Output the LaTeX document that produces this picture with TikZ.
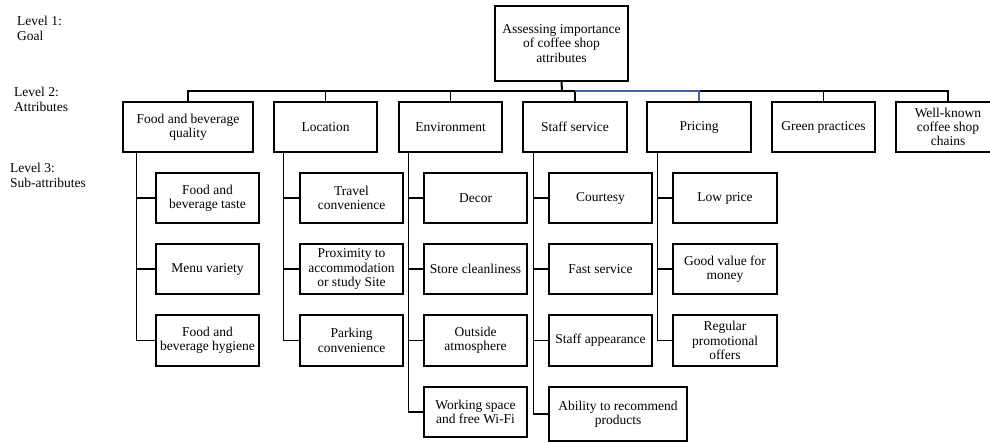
\documentclass[tikz,border=0pt]{standalone}
\usepackage{fontspec}
\setmainfont{Liberation Serif}
\begin{document}
\begin{tikzpicture}[x=1pt,y=-1pt,
  box/.style={draw,line width=1.1pt,rectangle,inner sep=0pt,align=center,
    font=\fontsize{13.5}{14.3}\selectfont},
  lvl/.style={anchor=west,inner sep=0pt,align=left,font=\fontsize{13.5}{15}\selectfont},
  wire/.style={line width=1.1pt},
  attr/.style={box,minimum height=50pt,minimum width=103pt},
  sub/.style={box,minimum height=50pt,minimum width=103pt}]
\useasboundingbox (0,0) rectangle (990,443);
% level labels
\node[lvl] (l1) at (17,28.5) {Level 1:\\Goal};
\node[lvl] (l2) at (14,99.5) {Level 2:\\Attributes};
\node[lvl] (l3) at (10,175.5) {Level 3:\\Sub-attributes};
% goal
\node[box,minimum width=133pt,minimum height=75pt] (goal) at (561.5,43.5) {Assessing importance\\of coffee shop\\attributes};
\coordinate (bus) at (562,91);
% attributes
\node[attr,minimum width=130pt] (food) at (188,127) {Food and beverage\\quality};
\node[attr] (loc) at (325.5,127) {Location};
\node[attr] (env) at (450.5,127) {Environment};
\node[attr,minimum width=104pt] (staff) at (575,127) {Staff service};
\node[attr,minimum width=104pt] (price) at (699,127) {Pricing};
\node[attr] (green) at (823.5,127) {Green practices};
\node[attr,minimum width=104pt] (well) at (948,127) {Well-known\\coffee shop\\chains};
% sub-attributes
\node[sub] (f1) at (207.5,198) {Food and\\beverage taste};
\node[sub] (f2) at (207.5,269) {Menu variety};
\node[sub,minimum height=51pt] (f3) at (207.5,340.5) {Food and\\beverage hygiene};
\node[sub] (c1) at (351.5,198) {Travel\\convenience};
\node[sub] (c2) at (351.5,269) {Proximity to\\accommodation\\or study Site};
\node[sub,minimum height=51pt] (c3) at (351.5,340.5) {Parking\\convenience};
\node[sub] (e1) at (475.5,198) {Decor};
\node[sub] (e2) at (475.5,269) {Store cleanliness};
\node[sub,minimum height=51pt] (e3) at (475.5,340.5) {Outside\\atmosphere};
\node[sub] (e4) at (475.5,412) {Working space\\and free Wi-Fi};
\node[sub] (s1) at (600.5,198) {Courtesy};
\node[sub] (s2) at (600.5,269) {Fast service};
\node[sub,minimum height=51pt] (s3) at (600.5,340.5) {Staff appearance};
\node[sub,minimum width=138pt,minimum height=54pt] (s4) at (618,414) {Ability to recommend\\products};
\node[sub,minimum width=104pt] (p1) at (725,198) {Low price};
\node[sub,minimum width=104pt] (p2) at (725,269) {Good value for\\money};
\node[sub,minimum width=104pt,minimum height=51pt] (p3) at (725,340.5) {Regular\\promotional\\offers};
% goal to attributes
\draw[line width=2pt] (goal.south) -- (bus);
\draw[wire] (food.north) |- (bus);
\draw[wire] (loc.north) |- (bus);
\draw[wire] (env.north) |- (bus);
\draw[wire] (staff.north) |- (bus);
\draw[wire] (green.north) |- (bus);
\draw[wire] (well.north) |- (bus);
\draw[wire,draw={rgb,255:red,70;green,100;blue,170}] (price.north) |- (staff.north |- bus);
% attributes to sub-attributes
\draw[wire] (food.south west) ++(14,0) |- (f1.west);
\draw[wire] (food.south west) ++(14,0) |- (f2.west);
\draw[wire] (food.south west) ++(14,0) |- (f3.west);
\draw[wire] (loc.south west) ++(10,0) |- (c1.west);
\draw[wire] (loc.south west) ++(10,0) |- (c2.west);
\draw[wire] (loc.south west) ++(10,0) |- (c3.west);
\draw[wire] (env.south west) ++(10,0) |- (e1.west);
\draw[wire] (env.south west) ++(10,0) |- (e2.west);
\draw[wire] (env.south west) ++(10,0) |- (e3.west);
\draw[wire] (env.south west) ++(10,0) |- (e4.west);
\draw[wire] (staff.south west) ++(11,0) |- (s1.west);
\draw[wire] (staff.south west) ++(11,0) |- (s2.west);
\draw[wire] (staff.south west) ++(11,0) |- (s3.west);
\draw[wire] (staff.south west) ++(11,0) |- (s4.west);
\draw[wire] (price.south west) ++(11,0) |- (p1.west);
\draw[wire] (price.south west) ++(11,0) |- (p2.west);
\draw[wire] (price.south west) ++(11,0) |- (p3.west);
\end{tikzpicture}
\end{document}
